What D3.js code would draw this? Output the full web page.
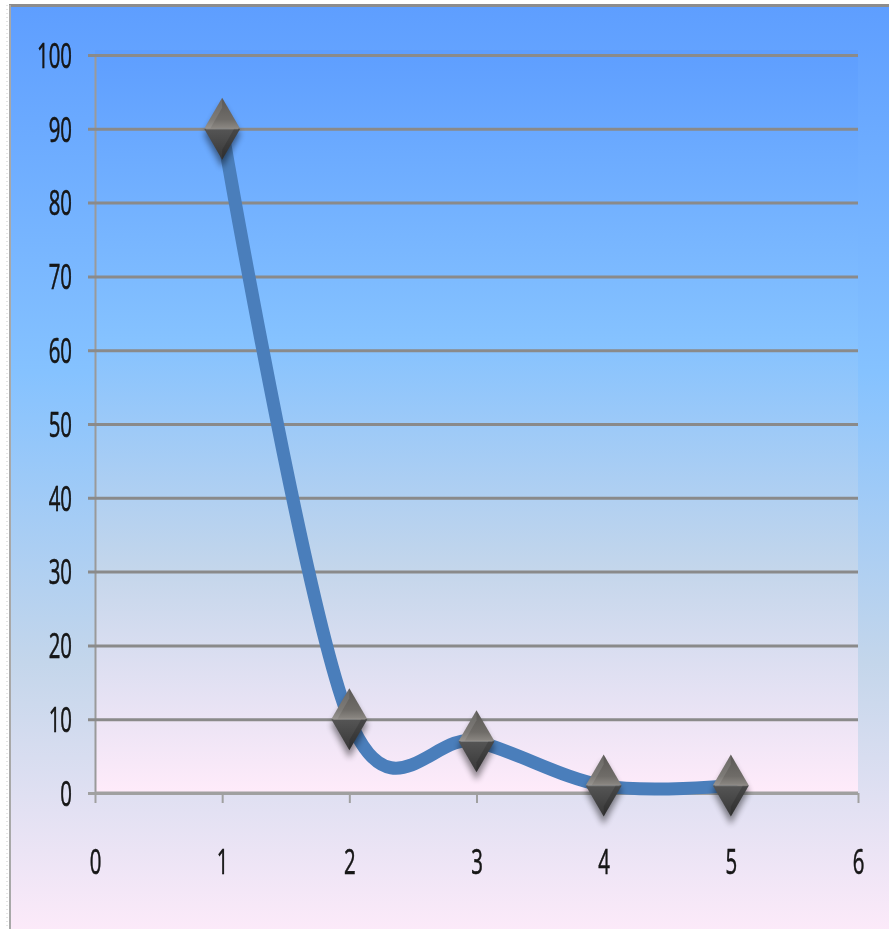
<!DOCTYPE html>
<html>
<head>
<meta charset="utf-8">
<script src="https://cdn.jsdelivr.net/npm/d3@7/dist/d3.min.js"></script>
<style>
  html, body { margin: 0; padding: 0; background: #ffffff; }
  svg { display: block; }
</style>
</head>
<body>
<svg id="chart" width="889" height="929"></svg>
<script>
// Series
const xValues = [1, 2, 3, 4, 5];
const yValues = [90, 10, 7, 1, 1];
// Axis ticks
const xTicks = [0, 1, 2, 3, 4, 5, 6];
const yTicks = [0, 10, 20, 30, 40, 50, 60, 70, 80, 90, 100];
const xDomain = [0, 6];
const yDomain = [0, 100];

const W = 889, H = 929;
const plot = { left: 95, right: 858, top: 55, bottom: 793 };
const textScale = 0.6;
const labelFont = "'Open Sans', 'DejaVu Sans', sans-serif";

const svg = d3.select("#chart");
const defs = svg.append("defs");

// Sky-to-blush gradient used for both the chart area and the plot area
function skyGradient(id) {
  const g = defs.append("linearGradient").attr("id", id)
    .attr("x1", 0).attr("y1", 0).attr("x2", 0).attr("y2", 1);
  [[0, "#5e9eff"], [0.39, "#85c2ff"], [0.7, "#c4d6eb"], [1, "#ffebfa"]]
    .forEach(([o, c]) => g.append("stop").attr("offset", o).attr("stop-color", c));
}
skyGradient("bgOuter");
skyGradient("bgPlot");

// Marker facets
const gTop = defs.append("linearGradient").attr("id", "mTop")
  .attr("x1", 0).attr("y1", 0).attr("x2", 0).attr("y2", 1);
gTop.append("stop").attr("offset", 0).attr("stop-color", "#5a5855");
gTop.append("stop").attr("offset", 0.7).attr("stop-color", "#6f6c68");
gTop.append("stop").attr("offset", 1).attr("stop-color", "#8d8984");
const gBot = defs.append("linearGradient").attr("id", "mBot")
  .attr("x1", 0).attr("y1", 0).attr("x2", 0).attr("y2", 1);
gBot.append("stop").attr("offset", 0).attr("stop-color", "#555555");
gBot.append("stop").attr("offset", 1).attr("stop-color", "#363636");

const shadow = defs.append("filter").attr("id", "mShadow")
  .attr("x", "-50%").attr("y", "-50%").attr("width", "200%").attr("height", "200%");
shadow.append("feGaussianBlur").attr("stdDeviation", 3);

const soft = defs.append("filter").attr("id", "soft");
soft.append("feGaussianBlur").attr("stdDeviation", 0.45);

// Chart area
svg.append("rect").attr("x", 10).attr("y", 6).attr("width", W - 10).attr("height", H + 10)
  .attr("fill", "url(#bgOuter)");
svg.append("line").attr("x1", 9).attr("x2", W).attr("y1", 5.5).attr("y2", 5.5)
  .attr("stroke", "#8c8c8c").attr("stroke-width", 3);
svg.append("line").attr("x1", 10).attr("x2", 10).attr("y1", 5).attr("y2", H)
  .attr("stroke", "#a8a8a8").attr("stroke-width", 2);
svg.append("line").attr("x1", 7).attr("x2", 7).attr("y1", 5).attr("y2", H)
  .attr("stroke", "#c8c8c8").attr("stroke-width", 1).attr("stroke-dasharray", "1,3");

// Plot area
svg.append("rect").attr("x", plot.left).attr("y", plot.top - 5)
  .attr("width", plot.right - plot.left).attr("height", plot.bottom - plot.top + 5)
  .attr("fill", "url(#bgPlot)");

const x = d3.scaleLinear().domain(xDomain).range([plot.left, plot.right]);
const y = d3.scaleLinear().domain(yDomain).range([plot.bottom, plot.top]);

function styleLabels(sel) {
  sel.attr("transform", `scale(${textScale},1)`)
    .attr("fill", "#141414")
    .attr("stroke", "#141414").attr("stroke-width", 0.6)
    .attr("font-size", 34)
    .attr("font-family", labelFont)
    .attr("filter", "url(#soft)");
}

// Value axis with gridlines
const yAxis = svg.append("g").attr("transform", `translate(${plot.left},0)`)
  .call(d3.axisLeft(y).tickValues(yTicks).tickSize(0).tickPadding(0).tickFormat(d3.format("d")));
yAxis.attr("font-family", labelFont);
yAxis.select(".domain").attr("stroke", "#9a9a9a").attr("stroke-width", 2)
  .attr("d", `M0.5,${plot.top}V${plot.bottom}`);
yAxis.selectAll(".tick line")
  .attr("x1", -7).attr("x2", plot.right - plot.left)
  .attr("stroke", d => d === 0 ? "#a0a0a0" : "#8a8a8a").attr("stroke-width", 3);
yAxis.selectAll(".tick text")
  .attr("x", -23 / textScale).attr("dy", "0.36em")
  .call(styleLabels);

// Category axis
const xAxis = svg.append("g").attr("transform", `translate(0,${plot.bottom})`)
  .call(d3.axisBottom(x).tickValues(xTicks).tickSize(10).tickPadding(0).tickFormat(d3.format("d")));
xAxis.attr("font-family", labelFont);
xAxis.select(".domain").attr("stroke", "#a0a0a0").attr("stroke-width", 3)
  .attr("d", `M${plot.left},0H${plot.right}`);
xAxis.selectAll(".tick line").attr("stroke", "#a0a0a0").attr("stroke-width", 2);
xAxis.selectAll(".tick text")
  .attr("x", 0).attr("y", 69).attr("dy", "0.36em")
  .call(styleLabels);

// Smoothed series line
const points = xValues.map((v, i) => [v, yValues[i]]);
const line = d3.line().x(d => x(d[0])).y(d => y(d[1])).curve(d3.curveCardinal.tension(0));
svg.append("path").datum(points)
  .attr("d", line)
  .attr("fill", "none")
  .attr("stroke", "#4a7ebb")
  .attr("stroke-width", 13)
  .attr("stroke-linejoin", "round")
  .attr("stroke-linecap", "round");

// Diamond markers
const hw = 18, hh = 31;
const markers = svg.append("g").selectAll("g").data(points).join("g")
  .attr("transform", d => `translate(${x(d[0])},${y(d[1])})`);
markers.append("path")
  .attr("d", `M0,${-hh + 6}L${hw},6L0,${hh + 8}L${-hw},6Z`)
  .attr("fill", "#000").attr("opacity", 0.45).attr("filter", "url(#mShadow)");
markers.append("path")
  .attr("d", `M0,${-hh}L${hw},0L${-hw},0Z`).attr("fill", "url(#mTop)");
markers.append("path")
  .attr("d", `M${-hw},0L${hw},0L0,${hh}Z`).attr("fill", "url(#mBot)");
// bevel highlights
markers.append("path")
  .attr("d", `M0,${-hh}L${-hw},0L${-hw + 6},0L0,${-hh + 10}Z`)
  .attr("fill", "#ffffff").attr("opacity", 0.1);
markers.append("path")
  .attr("d", `M${-hw + 2},0L${hw - 2},0`)
  .attr("stroke", "#9c9893").attr("stroke-width", 1.5).attr("opacity", 0.6);
markers.append("path")
  .attr("d", `M0,${hh}L${hw},0L${hw - 6},0L0,${hh - 10}Z`)
  .attr("fill", "#000").attr("opacity", 0.15);
</script>
</body>
</html>
